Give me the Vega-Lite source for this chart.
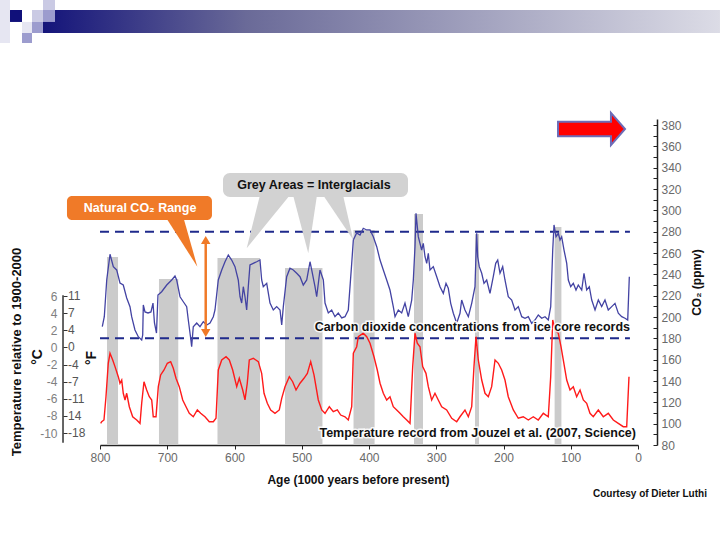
{
"$schema": "https://vega.github.io/schema/vega-lite/v6.json",
"width": 538, "height": 326,
"autosize": "none",
"padding": {"left": 100, "top": 119, "right": 82, "bottom": 95},
"background": "white",
"config": {"view": {"stroke": null}, "font": "Liberation Sans", "axis": {"grid": false, "labelOverlap": false}},
"datasets": {
"co2": [
{"a":796.6,"c":190.9},{"a":793.6,"c":200.3},{"a":790.0,"c":234.7},{"a":785.1,"c":258.8},{"a":780.2,"c":247.2},{"a":775.2,"c":244.1},{"a":770.3,"c":231.9},{"a":765.4,"c":230.0},{"a":760.3,"c":217.8},{"a":755.4,"c":209.7},{"a":752.9,"c":200.3},{"a":748.0,"c":187.8},{"a":743.1,"c":181.5},{"a":738.0,"c":178.4},{"a":736.5,"c":183.1},{"a":735.6,"c":211.3},{"a":733.1,"c":204.7},{"a":728.6,"c":203.8},{"a":724.2,"c":204.7},{"a":721.2,"c":213.1},{"a":719.0,"c":194.4},{"a":716.0,"c":185.0},{"a":713.8,"c":220.6},{"a":708.3,"c":223.7},{"a":700.8,"c":230.0},{"a":693.4,"c":234.7},{"a":688.5,"c":238.4},{"a":686.0,"c":234.7},{"a":681.0,"c":219.0},{"a":676.1,"c":214.3},{"a":671.1,"c":209.7},{"a":668.7,"c":197.2},{"a":665.2,"c":180.3},{"a":663.7,"c":172.2},{"a":661.3,"c":190.9},{"a":656.2,"c":194.4},{"a":651.3,"c":190.9},{"a":646.4,"c":195.6},{"a":641.3,"c":192.5},{"a":636.4,"c":194.4},{"a":631.5,"c":200.3},{"a":629.0,"c":206.6},{"a":624.1,"c":234.7},{"a":619.0,"c":244.1},{"a":614.1,"c":251.8},{"a":609.2,"c":258.1},{"a":604.2,"c":253.4},{"a":599.3,"c":247.2},{"a":594.4,"c":234.7},{"a":591.8,"c":219.0},{"a":589.3,"c":213.1},{"a":586.9,"c":228.4},{"a":584.4,"c":219.0},{"a":581.9,"c":206.6},{"a":579.5,"c":228.4},{"a":577.0,"c":248.8},{"a":572.1,"c":250.3},{"a":567.0,"c":251.8},{"a":562.1,"c":253.4},{"a":559.6,"c":234.7},{"a":557.2,"c":228.4},{"a":552.1,"c":231.6},{"a":547.2,"c":213.1},{"a":542.3,"c":206.6},{"a":537.3,"c":209.7},{"a":532.3,"c":206.6},{"a":529.8,"c":192.5},{"a":527.4,"c":209.7},{"a":522.4,"c":237.8},{"a":517.5,"c":245.7},{"a":512.6,"c":244.1},{"a":507.5,"c":241.0},{"a":502.6,"c":237.8},{"a":497.7,"c":230.0},{"a":492.6,"c":234.7},{"a":487.7,"c":251.8},{"a":485.2,"c":244.1},{"a":480.3,"c":228.4},{"a":477.8,"c":219.0},{"a":472.9,"c":244.1},{"a":467.9,"c":234.7},{"a":465.4,"c":213.1},{"a":460.5,"c":203.8},{"a":455.5,"c":206.6},{"a":450.6,"c":200.3},{"a":445.7,"c":203.8},{"a":440.6,"c":199.1},{"a":435.7,"c":200.3},{"a":430.8,"c":206.6},{"a":425.7,"c":250.3},{"a":423.3,"c":272.2},{"a":418.3,"c":278.8},{"a":413.4,"c":276.9},{"a":408.5,"c":283.2},{"a":403.4,"c":281.6},{"a":398.5,"c":281.6},{"a":393.6,"c":275.3},{"a":388.5,"c":265.9},{"a":383.6,"c":253.4},{"a":378.7,"c":244.1},{"a":373.7,"c":234.7},{"a":368.8,"c":225.3},{"a":363.9,"c":209.7},{"a":361.3,"c":200.3},{"a":356.4,"c":206.6},{"a":351.4,"c":203.8},{"a":346.5,"c":213.1},{"a":341.6,"c":200.3},{"a":336.5,"c":215.9},{"a":334.1,"c":234.7},{"a":331.6,"c":265.9},{"a":330.1,"c":297.2},{"a":326.7,"c":275.3},{"a":324.2,"c":269.1},{"a":321.7,"c":262.8},{"a":319.3,"c":269.1},{"a":316.7,"c":256.5},{"a":314.2,"c":250.3},{"a":311.8,"c":259.7},{"a":309.3,"c":244.1},{"a":304.4,"c":247.2},{"a":299.3,"c":237.8},{"a":294.4,"c":228.4},{"a":289.5,"c":222.2},{"a":285.5,"c":231.6},{"a":282.1,"c":226.9},{"a":278.5,"c":212.8},{"a":274.6,"c":203.5},{"a":269.6,"c":194.1},{"a":264.7,"c":203.5},{"a":262.2,"c":215.9},{"a":257.3,"c":206.6},{"a":252.3,"c":200.3},{"a":247.3,"c":212.8},{"a":242.4,"c":228.4},{"a":239.9,"c":278.5},{"a":238.4,"c":256.5},{"a":236.0,"c":247.2},{"a":232.4,"c":241.0},{"a":229.0,"c":231.6},{"a":225.0,"c":234.7},{"a":220.1,"c":222.2},{"a":215.2,"c":237.8},{"a":211.6,"c":250.3},{"a":208.6,"c":253.4},{"a":205.2,"c":241.0},{"a":201.2,"c":247.2},{"a":197.8,"c":234.7},{"a":192.9,"c":219.0},{"a":187.8,"c":215.9},{"a":182.9,"c":206.6},{"a":178.0,"c":209.7},{"a":172.9,"c":200.3},{"a":168.0,"c":198.8},{"a":163.1,"c":200.3},{"a":158.1,"c":194.1},{"a":153.2,"c":197.2},{"a":148.3,"c":201.9},{"a":143.2,"c":198.8},{"a":138.3,"c":200.3},{"a":133.4,"c":197.2},{"a":129.8,"c":209.7},{"a":126.8,"c":262.8},{"a":124.9,"c":286.3},{"a":121.9,"c":275.3},{"a":118.5,"c":278.5},{"a":116.0,"c":272.2},{"a":113.5,"c":275.3},{"a":110.0,"c":262.8},{"a":106.0,"c":250.3},{"a":103.6,"c":234.7},{"a":100.1,"c":228.4},{"a":96.2,"c":231.6},{"a":92.2,"c":225.3},{"a":88.8,"c":230.0},{"a":83.7,"c":225.3},{"a":80.3,"c":241.0},{"a":76.3,"c":225.3},{"a":72.4,"c":228.4},{"a":68.8,"c":215.9},{"a":63.9,"c":206.6},{"a":59.0,"c":215.9},{"a":54.0,"c":209.7},{"a":49.1,"c":215.9},{"a":44.2,"c":206.6},{"a":39.1,"c":209.7},{"a":34.2,"c":212.8},{"a":29.3,"c":203.5},{"a":24.2,"c":200.3},{"a":19.3,"c":198.8},{"a":15.3,"c":197.2},{"a":12.9,"c":237.8}
],
"temp": [
{"a":799,"t":-8.87},{"a":797.5,"t":-8.68},{"a":794.1,"t":-8.48},{"a":791.1,"t":-5.76},{"a":787.7,"t":-1.86},{"a":785.1,"t":-0.69},{"a":781.1,"t":-1.47},{"a":777.7,"t":-2.25},{"a":772.8,"t":-3.42},{"a":770.3,"t":-4.19},{"a":767.7,"t":-3.81},{"a":765.4,"t":-5.36},{"a":762.8,"t":-6.14},{"a":760.3,"t":-5.36},{"a":756.4,"t":-6.93},{"a":751.4,"t":-8.10},{"a":745.4,"t":-8.48},{"a":740.5,"t":-8.87},{"a":738.0,"t":-6.53},{"a":734.6,"t":-4.01},{"a":730.6,"t":-4.98},{"a":726.7,"t":-5.76},{"a":723.1,"t":-6.14},{"a":720.8,"t":-8.10},{"a":716.7,"t":-8.10},{"a":713.3,"t":-4.59},{"a":709.8,"t":-3.22},{"a":704.8,"t":-2.64},{"a":699.9,"t":-1.86},{"a":694.9,"t":-1.67},{"a":691.0,"t":-2.44},{"a":687.0,"t":-3.61},{"a":682.1,"t":-4.59},{"a":677.0,"t":-6.14},{"a":672.1,"t":-6.93},{"a":667.2,"t":-7.70},{"a":661.3,"t":-8.10},{"a":655.3,"t":-7.31},{"a":650.3,"t":-7.70},{"a":643.9,"t":-8.10},{"a":637.5,"t":-8.68},{"a":631.5,"t":-8.68},{"a":627.5,"t":-8.28},{"a":624.1,"t":-2.64},{"a":619.0,"t":-1.47},{"a":612.6,"t":-1.09},{"a":607.7,"t":-1.47},{"a":602.7,"t":-2.64},{"a":596.7,"t":-4.59},{"a":592.9,"t":-3.61},{"a":587.8,"t":-4.98},{"a":584.4,"t":-6.14},{"a":581.0,"t":-4.19},{"a":578.0,"t":-1.47},{"a":572.1,"t":-1.27},{"a":564.6,"t":-1.67},{"a":559.6,"t":-3.03},{"a":556.1,"t":-5.36},{"a":551.2,"t":-6.53},{"a":546.2,"t":-7.31},{"a":539.8,"t":-7.70},{"a":533.4,"t":-7.31},{"a":529.8,"t":-5.95},{"a":524.9,"t":-4.59},{"a":518.5,"t":-3.42},{"a":513.5,"t":-4.01},{"a":508.5,"t":-4.98},{"a":502.6,"t":-4.19},{"a":496.7,"t":-3.61},{"a":491.7,"t":-3.03},{"a":486.7,"t":-1.67},{"a":481.8,"t":-3.22},{"a":475.4,"t":-6.14},{"a":470.3,"t":-7.31},{"a":465.4,"t":-7.70},{"a":459.0,"t":-6.93},{"a":453.1,"t":-7.51},{"a":447.1,"t":-7.31},{"a":442.1,"t":-7.90},{"a":435.7,"t":-8.10},{"a":430.8,"t":-8.48},{"a":425.7,"t":-6.93},{"a":423.3,"t":-0.69},{"a":418.3,"t":0.08},{"a":415.9,"t":1.25},{"a":408.5,"t":1.65},{"a":403.4,"t":1.25},{"a":398.5,"t":0.48},{"a":392.6,"t":-1.09},{"a":387.7,"t":-2.64},{"a":383.6,"t":-4.19},{"a":378.7,"t":-5.36},{"a":373.7,"t":-6.14},{"a":368.8,"t":-5.76},{"a":363.9,"t":-6.93},{"a":358.8,"t":-7.31},{"a":353.9,"t":-7.70},{"a":349.0,"t":-8.10},{"a":343.9,"t":-8.48},{"a":339.0,"t":-8.87},{"a":335.0,"t":-2.25},{"a":331.6,"t":1.65},{"a":328.2,"t":0.48},{"a":324.2,"t":0.08},{"a":320.2,"t":-2.25},{"a":315.3,"t":-3.03},{"a":311.8,"t":-4.59},{"a":306.8,"t":-6.14},{"a":301.9,"t":-5.36},{"a":297.0,"t":-6.14},{"a":291.9,"t":-6.93},{"a":284.5,"t":-7.31},{"a":277.0,"t":-8.28},{"a":269.6,"t":-8.68},{"a":264.7,"t":-8.10},{"a":257.3,"t":-7.31},{"a":252.3,"t":-8.10},{"a":247.3,"t":-6.93},{"a":243.9,"t":-2.25},{"a":240.9,"t":1.25},{"a":237.5,"t":-1.47},{"a":232.4,"t":-3.81},{"a":227.5,"t":-5.36},{"a":222.6,"t":-5.76},{"a":217.6,"t":-4.59},{"a":212.6,"t":-1.47},{"a":207.7,"t":-1.86},{"a":202.7,"t":-2.64},{"a":197.8,"t":-3.81},{"a":192.9,"t":-5.76},{"a":185.4,"t":-7.31},{"a":178.0,"t":-8.28},{"a":170.6,"t":-8.10},{"a":163.1,"t":-8.48},{"a":155.7,"t":-8.10},{"a":148.3,"t":-8.48},{"a":140.8,"t":-7.70},{"a":133.4,"t":-8.10},{"a":129.8,"t":-3.42},{"a":126.8,"t":3.20},{"a":123.4,"t":2.03},{"a":118.5,"t":1.65},{"a":114.5,"t":0.08},{"a":111.1,"t":-1.47},{"a":106.0,"t":-3.81},{"a":101.1,"t":-4.98},{"a":96.2,"t":-4.59},{"a":91.2,"t":-5.76},{"a":86.2,"t":-4.98},{"a":81.3,"t":-6.14},{"a":76.3,"t":-6.53},{"a":71.4,"t":-7.70},{"a":66.5,"t":-8.10},{"a":59.0,"t":-7.31},{"a":51.6,"t":-8.10},{"a":44.2,"t":-7.70},{"a":36.7,"t":-8.48},{"a":29.3,"t":-8.87},{"a":21.9,"t":-9.26},{"a":16.8,"t":-9.26},{"a":13.4,"t":-3.42}
]
},
"layer": [
{
"layer": [
{
"data": {"values": [
{"a1":789.6,"a2":773.2,"top":256.3,"bot":80},{"a1":712.3,"a2":683.6,"top":235.6,"bot":80},{"a1":625.3,"a2":562.1,"top":255.3,"bot":80},{"a1":524.9,"a2":469.2,"top":245.9,"bot":80},{"a1":423.0,"a2":391.7,"top":281.6,"bot":80},{"a1":333.1,"a2":319.7,"top":296.6,"bot":80},{"a1":242.4,"a2":236.4,"top":277.8,"bot":80},{"a1":124.0,"a2":113.9,"top":284.4,"bot":80}]},
"mark": {"type": "rect", "color": "#cbcbcb"},
"encoding": {
"x": {"field": "a1", "type": "quantitative", "scale": {"domain": [0, 800], "reverse": true, "nice": false, "zero": false},
"axis": {"values": [800,750,700,650,600,550,500,450,400,350,300,250,200,150,100,50,0], "labelExpr": "datum.value % 100 === 0 ? toString(datum.value) : ''", "labelOverlap": false, "title": "Age (1000 years before present)", "titleFontWeight": "bold", "titleFontSize": 12, "titleColor": "#111", "titlePadding": 11, "titleX": 258, "labelColor": "#6a6a6a", "labelFontSize": 12, "labelPadding": 3, "domainColor": "#222", "domainWidth": 1.5, "tickColor": "#222", "tickSize": 4, "labelFlush": false}},
"x2": {"field": "a2"},
"y": {"field": "top", "type": "quantitative", "scale": {"domain": [80, 385.625], "nice": false, "zero": false},
"axis": {"orient": "right", "offset": 19, "values": [80,90,100,110,120,130,140,150,160,170,180,190,200,210,220,230,240,250,260,270,280,290,300,310,320,330,340,350,360,370,380], "labelExpr": "datum.value % 20 === 0 ? toString(datum.value) : ''", "labelOverlap": false, "labelSeparation": 0, "title": "CO₂ (ppmv)", "titleAngle": 270, "titleFontWeight": "bold", "titleFontSize": 12, "titleColor": "#111", "titlePadding": 22, "labelColor": "#6a6a6a", "labelFontSize": 12, "labelPadding": 8, "domainColor": "#222", "domainWidth": 1.5, "tickColor": "#222", "tickSize": -4}},
"y2": {"field": "bot"}
}
},
{
"data": {"values": [{"c":280,"a1":800,"a2":12},{"c":180,"a1":800,"a2":12}]},
"mark": {"type": "rule", "color": "#1f2a8c", "strokeDash": [9, 6], "strokeWidth": 2},
"encoding": {
"x": {"field": "a1", "type": "quantitative", "scale": {"domain": [0, 800], "reverse": true, "nice": false, "zero": false},
"axis": {"values": [800,750,700,650,600,550,500,450,400,350,300,250,200,150,100,50,0], "labelExpr": "datum.value % 100 === 0 ? toString(datum.value) : ''", "labelOverlap": false, "title": "Age (1000 years before present)", "titleFontWeight": "bold", "titleFontSize": 12, "titleColor": "#111", "titlePadding": 11, "titleX": 258, "labelColor": "#6a6a6a", "labelFontSize": 12, "labelPadding": 3, "domainColor": "#222", "domainWidth": 1.5, "tickColor": "#222", "tickSize": 4, "labelFlush": false}},
"x2": {"field": "a2"},
"y": {"field": "c", "type": "quantitative", "scale": {"domain": [80, 385.625], "nice": false, "zero": false},
"axis": {"orient": "right", "offset": 19, "values": [80,90,100,110,120,130,140,150,160,170,180,190,200,210,220,230,240,250,260,270,280,290,300,310,320,330,340,350,360,370,380], "labelExpr": "datum.value % 20 === 0 ? toString(datum.value) : ''", "labelOverlap": false, "labelSeparation": 0, "title": "CO₂ (ppmv)", "titleAngle": 270, "titleFontWeight": "bold", "titleFontSize": 12, "titleColor": "#111", "titlePadding": 22, "labelColor": "#6a6a6a", "labelFontSize": 12, "labelPadding": 8, "domainColor": "#222", "domainWidth": 1.5, "tickColor": "#222", "tickSize": -4}}
}
},
{
"data": {"name": "co2"},
"mark": {"type": "line", "color": "#4343a3", "strokeWidth": 1.3},
"encoding": {
"x": {"field": "a", "type": "quantitative", "scale": {"domain": [0, 800], "reverse": true, "nice": false, "zero": false},
"axis": {"values": [800,750,700,650,600,550,500,450,400,350,300,250,200,150,100,50,0], "labelExpr": "datum.value % 100 === 0 ? toString(datum.value) : ''", "labelOverlap": false, "title": "Age (1000 years before present)", "titleFontWeight": "bold", "titleFontSize": 12, "titleColor": "#111", "titlePadding": 11, "titleX": 258, "labelColor": "#6a6a6a", "labelFontSize": 12, "labelPadding": 3, "domainColor": "#222", "domainWidth": 1.5, "tickColor": "#222", "tickSize": 4, "labelFlush": false}},
"y": {"field": "c", "type": "quantitative", "scale": {"domain": [80, 385.625], "nice": false, "zero": false},
"axis": {"orient": "right", "offset": 19, "values": [80,90,100,110,120,130,140,150,160,170,180,190,200,210,220,230,240,250,260,270,280,290,300,310,320,330,340,350,360,370,380], "labelExpr": "datum.value % 20 === 0 ? toString(datum.value) : ''", "labelOverlap": false, "labelSeparation": 0, "title": "CO₂ (ppmv)", "titleAngle": 270, "titleFontWeight": "bold", "titleFontSize": 12, "titleColor": "#111", "titlePadding": 22, "labelColor": "#6a6a6a", "labelFontSize": 12, "labelPadding": 8, "domainColor": "#222", "domainWidth": 1.5, "tickColor": "#222", "tickSize": -4}}
}
}
]
},
{
"layer": [
{
"data": {"name": "temp"},
"mark": {"type": "line", "color": "#ff1a1a", "strokeWidth": 1.4},
"encoding": {
"x": {"field": "a", "type": "quantitative", "scale": {"domain": [0, 800], "reverse": true, "nice": false, "zero": false}},
"y": {"field": "t", "type": "quantitative", "scale": {"domain": [-11.4, 26.67], "nice": false, "zero": false},
"axis": {"orient": "left", "offset": 37, "values": [-10,-8,-6,-4,-2,0,2,4,6], "labelExpr": "toString(datum.value)", "labelOverlap": false, "domain": false, "title": null, "labelColor": "#808080", "labelFontSize": 12, "labelPadding": 10, "tickColor": "#333", "tickSize": -4}}
}
},
{
"data": {"values": [{"a":855,"t1":6.1,"t2":-11.15}]},
"mark": {"type": "rule", "color": "#333", "strokeWidth": 1.5},
"encoding": {
"x": {"field": "a", "type": "quantitative", "scale": {"domain": [0, 800], "reverse": true, "nice": false, "zero": false}},
"y": {"field": "t1", "type": "quantitative", "scale": {"domain": [-11.4, 26.67], "nice": false, "zero": false}},
"y2": {"field": "t2"}
}
},
{
"data": {"values": [{"a":847.6,"t":6,"f":"11"},{"a":847.6,"t":4,"f":"7"},{"a":847.6,"t":2,"f":"4"},{"a":847.6,"t":0,"f":"0"},{"a":847.6,"t":-2,"f":"-4"},{"a":847.6,"t":-4,"f":"-7"},{"a":847.6,"t":-6,"f":"-11"},{"a":847.6,"t":-8,"f":"14"},{"a":847.6,"t":-10,"f":"-18"}]},
"mark": {"type": "text", "align": "left", "baseline": "middle", "fontSize": 12, "color": "#555"},
"encoding": {
"x": {"field": "a", "type": "quantitative", "scale": {"domain": [0, 800], "reverse": true, "nice": false, "zero": false}},
"y": {"field": "t", "type": "quantitative", "scale": {"domain": [-11.4, 26.67], "nice": false, "zero": false}},
"text": {"field": "f"}
}
}
]
},
{
"layer": [
{
"data": {"values": [
{"g":1,"y":314.4,"xa":562.1,"xb":517.5},{"g":1,"y":264.4,"xa":581.9,"xb":581.9},
{"g":2,"y":314.4,"xa":513.0,"xb":477.3},{"g":2,"y":259.7,"xa":490.3,"xb":490.3},
{"g":3,"y":314.4,"xa":468.4,"xb":438.7},{"g":3,"y":272.2,"xa":423.3,"xb":423.3}]},
"mark": {"type": "area", "orient": "horizontal", "color": "#d2d2d2", "opacity": 1},
"encoding": {
"x": {"field": "xa", "type": "quantitative", "scale": {"domain": [0, 800], "reverse": true, "nice": false, "zero": false}},
"x2": {"field": "xb"},
"y": {"field": "y", "type": "quantitative", "scale": {"domain": [80, 385.625], "nice": false, "zero": false}, "axis": null},
"detail": {"field": "g", "type": "nominal"}
}
},
{
"data": {"values": [{"a1":617.1,"a2":342.0,"c1":335.0,"c2":312.5}]},
"mark": {"type": "rect", "color": "#d2d2d2", "cornerRadius": 7},
"encoding": {
"x": {"field": "a1", "type": "quantitative", "scale": {"domain": [0, 800], "reverse": true, "nice": false, "zero": false}},
"x2": {"field": "a2"},
"y": {"field": "c1", "type": "quantitative", "scale": {"domain": [80, 385.625], "nice": false, "zero": false}, "axis": null},
"y2": {"field": "c2"}
}
},
{
"data": {"values": [{"a":481.8,"c":323.75,"label":"Grey Areas = Interglacials"}]},
"mark": {"type": "text", "align": "center", "baseline": "middle", "fontSize": 12.5, "fontWeight": "bold", "color": "#111"},
"encoding": {
"x": {"field": "a", "type": "quantitative", "scale": {"domain": [0, 800], "reverse": true, "nice": false, "zero": false}},
"y": {"field": "c", "type": "quantitative", "scale": {"domain": [80, 385.625], "nice": false, "zero": false}, "axis": null},
"text": {"field": "label"}
}
},
{
"data": {"values": [{"g":"o","y":294.7,"xa":703.4,"xb":676.6},{"g":"o","y":247.2,"xa":655.3,"xb":655.3}]},
"mark": {"type": "area", "orient": "horizontal", "color": "#f07a28", "opacity": 1},
"encoding": {
"x": {"field": "xa", "type": "quantitative", "scale": {"domain": [0, 800], "reverse": true, "nice": false, "zero": false}},
"x2": {"field": "xb"},
"y": {"field": "y", "type": "quantitative", "scale": {"domain": [80, 385.625], "nice": false, "zero": false}, "axis": null},
"detail": {"field": "g", "type": "nominal"}
}
},
{
"data": {"values": [{"a1":849.1,"a2":633.5,"c1":313.4,"c2":290.9}]},
"mark": {"type": "rect", "color": "#f07a28", "cornerRadius": 5},
"encoding": {
"x": {"field": "a1", "type": "quantitative", "scale": {"domain": [0, 800], "reverse": true, "nice": false, "zero": false}},
"x2": {"field": "a2"},
"y": {"field": "c1", "type": "quantitative", "scale": {"domain": [80, 385.625], "nice": false, "zero": false}, "axis": null},
"y2": {"field": "c2"}
}
},
{
"data": {"values": [{"a":740.4,"c":302.2,"label":"Natural CO₂ Range"}]},
"mark": {"type": "text", "align": "center", "baseline": "middle", "fontSize": 12.5, "fontWeight": "bold", "color": "white"},
"encoding": {
"x": {"field": "a", "type": "quantitative", "scale": {"domain": [0, 800], "reverse": true, "nice": false, "zero": false}},
"y": {"field": "c", "type": "quantitative", "scale": {"domain": [80, 385.625], "nice": false, "zero": false}, "axis": null},
"text": {"field": "label"}
}
},
{
"data": {"values": [{"a":642.8,"c1":272.2,"c2":185.0}]},
"mark": {"type": "rule", "color": "#f07a28", "strokeWidth": 2.5},
"encoding": {
"x": {"field": "a", "type": "quantitative", "scale": {"domain": [0, 800], "reverse": true, "nice": false, "zero": false}},
"y": {"field": "c1", "type": "quantitative", "scale": {"domain": [80, 385.625], "nice": false, "zero": false}, "axis": null},
"y2": {"field": "c2"}
}
},
{
"data": {"values": [{"a":642.8,"c":272.2}]},
"mark": {"type": "point", "shape": "triangle-up", "size": 90, "filled": true, "color": "#f07a28", "opacity": 1},
"encoding": {
"x": {"field": "a", "type": "quantitative", "scale": {"domain": [0, 800], "reverse": true, "nice": false, "zero": false}},
"y": {"field": "c", "type": "quantitative", "scale": {"domain": [80, 385.625], "nice": false, "zero": false}, "axis": null}
}
},
{
"data": {"values": [{"a":642.8,"c":185.0}]},
"mark": {"type": "point", "shape": "triangle-down", "size": 90, "filled": true, "color": "#f07a28", "opacity": 1},
"encoding": {
"x": {"field": "a", "type": "quantitative", "scale": {"domain": [0, 800], "reverse": true, "nice": false, "zero": false}},
"y": {"field": "c", "type": "quantitative", "scale": {"domain": [80, 385.625], "nice": false, "zero": false}, "axis": null}
}
},
{
"data": {"values": [{"a":11.9,"c":190.6,"label":"Carbon dioxide concentrations from ice core records"},{"a":3.0,"c":91.25,"label":"Temperature record from Jouzel et al. (2007, Science)"}]},
"mark": {"type": "text", "align": "right", "baseline": "middle", "fontSize": 12.5, "fontWeight": "bold", "color": "white", "stroke": "white", "strokeWidth": 3, "strokeOpacity": 0.85},
"encoding": {
"x": {"field": "a", "type": "quantitative", "scale": {"domain": [0, 800], "reverse": true, "nice": false, "zero": false}},
"y": {"field": "c", "type": "quantitative", "scale": {"domain": [80, 385.625], "nice": false, "zero": false}, "axis": null},
"text": {"field": "label"}
}
},
{
"data": {"values": [{"a":11.9,"c":190.6,"label":"Carbon dioxide concentrations from ice core records"},{"a":3.0,"c":91.25,"label":"Temperature record from Jouzel et al. (2007, Science)"}]},
"mark": {"type": "text", "align": "right", "baseline": "middle", "fontSize": 12.5, "fontWeight": "bold", "color": "#111"},
"encoding": {
"x": {"field": "a", "type": "quantitative", "scale": {"domain": [0, 800], "reverse": true, "nice": false, "zero": false}},
"y": {"field": "c", "type": "quantitative", "scale": {"domain": [80, 385.625], "nice": false, "zero": false}, "axis": null},
"text": {"field": "label"}
}
},
{
"data": {"values": [{"a":69.1,"c":376.25}]},
"mark": {"type": "point", "shape": "M-1,-0.22L0.58,-0.22L0.58,-0.48L1,0L0.58,0.48L0.58,0.22L-1,0.22Z", "size": 4489, "filled": true, "fill": "#ff0000", "stroke": "#6c6cb8", "strokeWidth": 2, "opacity": 1, "fillOpacity": 1},
"encoding": {
"x": {"field": "a", "type": "quantitative", "scale": {"domain": [0, 800], "reverse": true, "nice": false, "zero": false}},
"y": {"field": "c", "type": "quantitative", "scale": {"domain": [80, 385.625], "nice": false, "zero": false}, "axis": null}
}
},
{
"data": {"values": [{"a1":884.8,"a2":-121.9,"c1":487.8,"c2":466.25}]},
"mark": {"type": "rect", "color": {"gradient": "linear", "x1": 0, "x2": 1, "y1": 0, "y2": 0, "stops": [{"offset": 0, "color": "#14147a"}, {"offset": 0.3, "color": "#6a6a98"}, {"offset": 1, "color": "#dcdce6"}]}},
"encoding": {
"x": {"field": "a1", "type": "quantitative", "scale": {"domain": [0, 800], "reverse": true, "nice": false, "zero": false}},
"x2": {"field": "a2"},
"y": {"field": "c1", "type": "quantitative", "scale": {"domain": [80, 385.625], "nice": false, "zero": false}, "axis": null},
"y2": {"field": "c2"}
}
},
{
"data": {"values": [
{"a1":948.7,"a2":933.8,"c1":497.2,"c2":456.9,"k":"faint"},
{"a1":933.8,"a2":916.0,"c1":487.8,"c2":476.6,"k":"navy"},
{"a1":901.1,"a2":884.8,"c1":487.8,"c2":476.6,"k":"light"},
{"a1":884.8,"a2":866.9,"c1":497.2,"c2":487.8,"k":"light"},
{"a1":884.8,"a2":866.9,"c1":487.8,"c2":476.6,"k":"mid"},
{"a1":916.0,"a2":901.1,"c1":476.6,"c2":466.25,"k":"faint"},
{"a1":901.1,"a2":884.8,"c1":476.6,"c2":466.25,"k":"mid"},
{"a1":916.0,"a2":901.1,"c1":466.25,"c2":456.9,"k":"mid"}]},
"mark": {"type": "rect"},
"encoding": {
"x": {"field": "a1", "type": "quantitative", "scale": {"domain": [0, 800], "reverse": true, "nice": false, "zero": false}},
"x2": {"field": "a2"},
"y": {"field": "c1", "type": "quantitative", "scale": {"domain": [80, 385.625], "nice": false, "zero": false}, "axis": null},
"y2": {"field": "c2"},
"color": {"field": "k", "type": "nominal", "scale": {"domain": ["navy","mid","light","faint"], "range": ["#10107a","#9c9cce","#cacae4","#e6e6f2"]}, "legend": null}
}
},
{
"data": {"values": [{"a":-17.8,"c":34.1,"label":"Courtesy of Dieter Luthi"}]},
"mark": {"type": "text", "align": "center", "baseline": "middle", "fontSize": 10, "fontWeight": "bold", "color": "#111"},
"encoding": {
"x": {"field": "a", "type": "quantitative", "scale": {"domain": [0, 800], "reverse": true, "nice": false, "zero": false}},
"y": {"field": "c", "type": "quantitative", "scale": {"domain": [80, 385.625], "nice": false, "zero": false}, "axis": null},
"text": {"field": "label"}
}
},
{
"data": {"values": [{"a":923.4,"c":167.2,"label":"Temperature relative to 1900-2000"}]},
"mark": {"type": "text", "align": "center", "baseline": "middle", "angle": 270, "fontSize": 13, "fontWeight": "bold", "color": "#111"},
"encoding": {
"x": {"field": "a", "type": "quantitative", "scale": {"domain": [0, 800], "reverse": true, "nice": false, "zero": false}},
"y": {"field": "c", "type": "quantitative", "scale": {"domain": [80, 385.625], "nice": false, "zero": false}, "axis": null},
"text": {"field": "label"}
}
},
{
"data": {"values": [{"a":892.2,"c":162.5,"label":"°C"},{"a":811.9,"c":161.6,"label":"°F"}]},
"mark": {"type": "text", "align": "center", "baseline": "middle", "angle": 270, "fontSize": 14, "fontWeight": "bold", "color": "#111"},
"encoding": {
"x": {"field": "a", "type": "quantitative", "scale": {"domain": [0, 800], "reverse": true, "nice": false, "zero": false}},
"y": {"field": "c", "type": "quantitative", "scale": {"domain": [80, 385.625], "nice": false, "zero": false}, "axis": null},
"text": {"field": "label"}
}
}
]
}
],
"resolve": {"scale": {"y": "independent"}}
}
